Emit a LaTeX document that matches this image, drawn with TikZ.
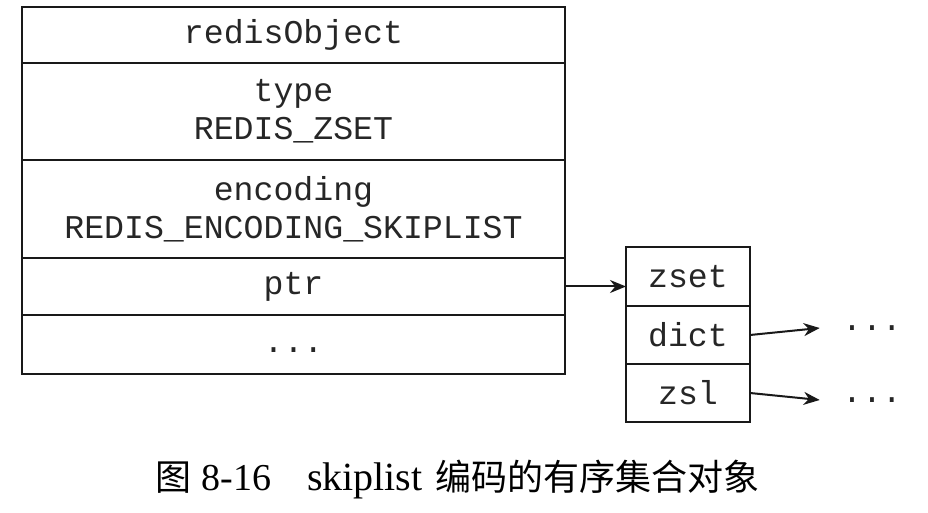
\documentclass[tikz,border=0pt]{standalone}
\usepackage{fontspec}
\setmonofont{Liberation Mono}
\setmainfont{Liberation Serif}
\newfontfamily\cjk{Noto Sans CJK SC}
\usetikzlibrary{arrows.meta}
\begin{document}
\begin{tikzpicture}[x=0.5pt,y=-0.5pt,
 cell/.style={draw=black!90, line width=1.3pt, inner sep=0pt, outer sep=0pt, align=center, font=\fontsize{16.6}{19}\selectfont\ttfamily, text=black!85},
 bigcell/.style={cell, minimum width=271.5pt},
 smallcell/.style={cell, minimum width=62pt},
 link/.style={line width=1pt, draw=black!90, -{Stealth[length=8pt,width=6.5pt]}},
 dotsnode/.style={font=\fontsize{16.6}{19}\selectfont\ttfamily, inner xsep=11pt, inner ysep=0pt, text=black!85}]
\useasboundingbox (0,0) rectangle (928,513);
% main redisObject box
\node[bigcell, minimum height=28pt] (hdr) at (293.5,35) {redisObject};
\node[bigcell, minimum height=48.5pt] (type) at (293.5,111.5) {type\\REDIS\_ZSET};
\node[bigcell, minimum height=49pt] (enc) at (293.5,209) {encoding\\REDIS\_ENCODING\_SKIPLIST};
\node[bigcell, minimum height=28.5pt] (ptr) at (293.5,286.5) {ptr};
\node[bigcell, minimum height=29.5pt] (rest) at (293.5,344.5) {...\vphantom{ptr}};
% zset box
\node[smallcell, minimum height=29.5pt] (zset) at (688,276.5) {zset};
\node[smallcell, minimum height=29pt] (dict) at (688,335) {dict};
\node[smallcell, minimum height=29pt] (zsl) at (688,393) {zsl};
% targets
\node[dotsnode] (d1) at (872,328) {...};
\node[dotsnode] (d2) at (872,400) {...};
% connectors
\draw[link] (ptr.east) -- (ptr.east -| zset.west);
\draw[link] (dict.east) -- (d1.west);
\draw[link] (zsl.east) -- (d2.west);
% caption
\node[inner sep=0pt, anchor=west] (cap) at (155,480) {\fontsize{18}{20}\selectfont{\cjk 图}\hspace{5pt}\fontsize{19}{20}\selectfont 8-16\hspace{18pt}{\fontsize{20}{20}\selectfont skiplist}\hspace{6.5pt}{\cjk\fontsize{18}{20}\selectfont 编码的有序集合对象}};
\end{tikzpicture}
\end{document}
